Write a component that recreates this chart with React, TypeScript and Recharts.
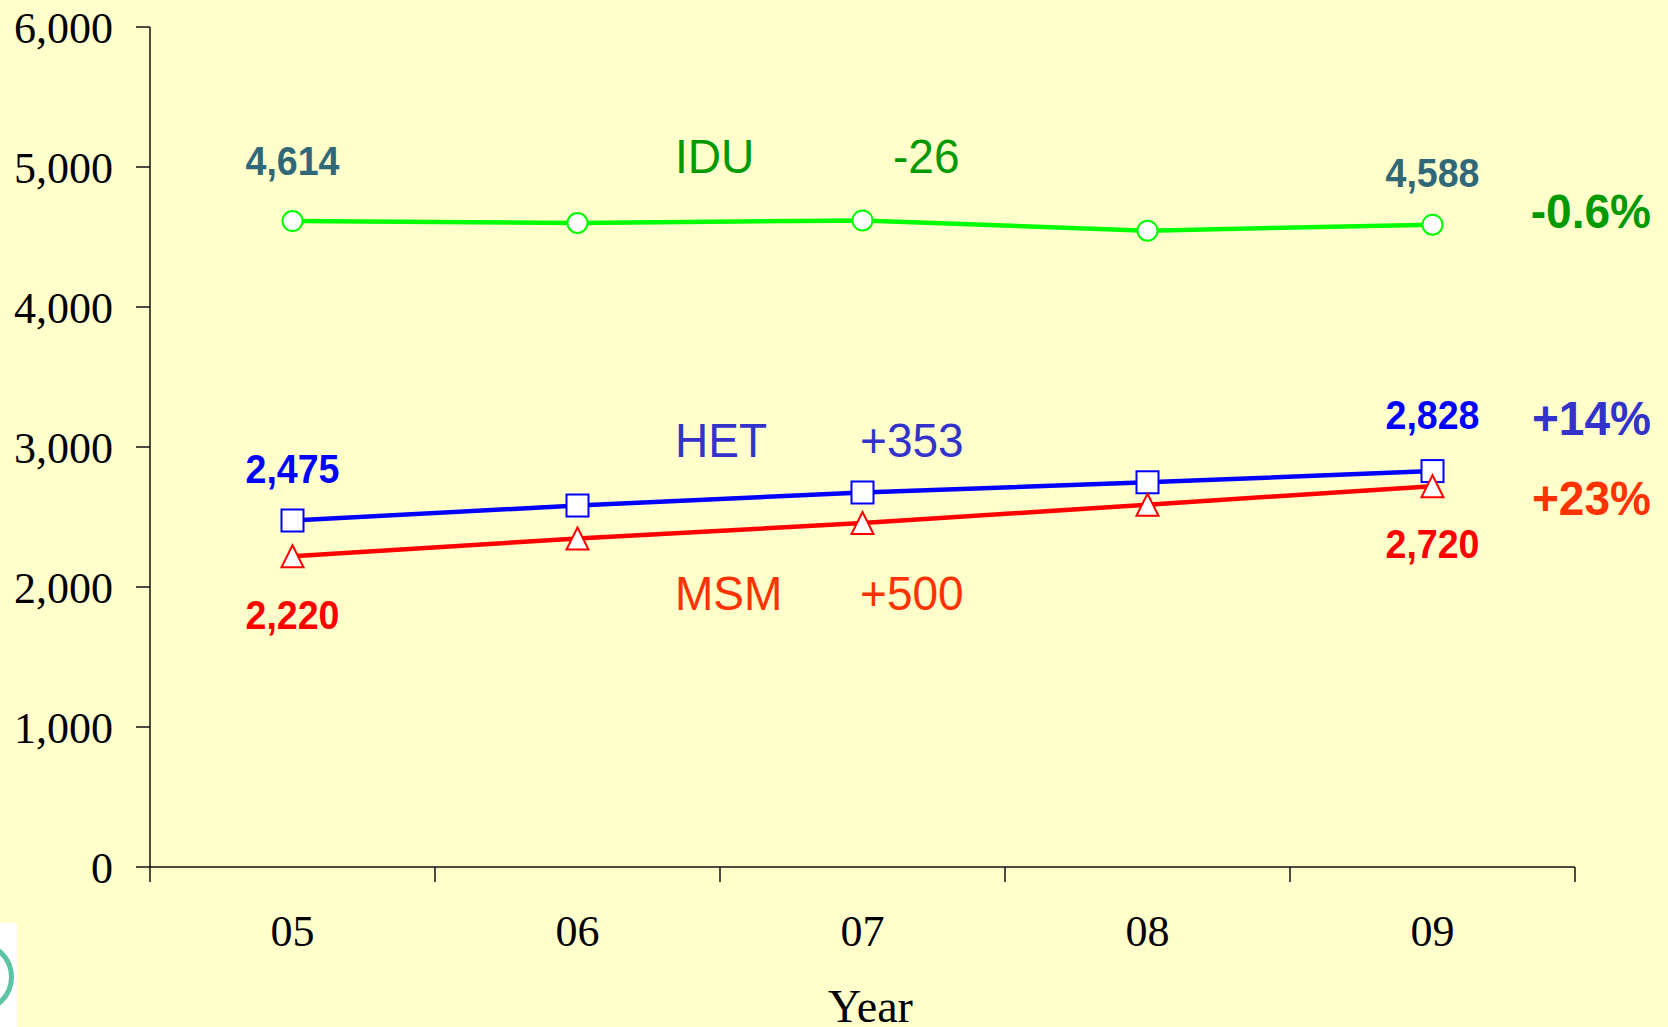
import { LineChart, Line, XAxis, YAxis, LabelList } from "recharts";

// values
const years = ["05", "06", "07", "08", "09"];
const iduValues = [4614, 4600, 4618, 4545, 4588];
const hetValues = [2475, 2582, 2675, 2748, 2828];
const msmValues = [2220, 2346, 2457, 2588, 2720];
const yTicks = [0, 1000, 2000, 3000, 4000, 5000, 6000];

const data = years.map((y, i) => ({
  idx: i,
  year: y,
  idu: iduValues[i],
  het: hetValues[i],
  msm: msmValues[i],
}));

const SANS = "Arial, 'Liberation Sans', sans-serif";
const SERIF = "'Times New Roman', 'Liberation Serif', serif";

const fmt = (v: number) => v.toLocaleString("en-US");
const change = (arr: number[]) => arr[arr.length - 1] - arr[0];
const signed = (v: number) => (v > 0 ? "+" : "") + v;
const pct = (arr: number[], digits: number) => {
  const p = (change(arr) / arr[0]) * 100;
  return (p > 0 ? "+" : "") + p.toFixed(digits) + "%";
};

// slightly condensed text, like the original slide
function SText(props: any) {
  const { x, y, anchor = "start", size, bold, color, dy, children } = props;
  return (
    <text
      transform={`translate(${x},${y}) scale(0.94,1)`}
      dy={dy}
      textAnchor={anchor}
      fill={color}
      fontFamily={SANS}
      fontWeight={bold ? "bold" : "normal"}
      fontSize={size}
    >
      {children}
    </text>
  );
}

const CircleDot = (p: any) => (
  <circle cx={p.cx} cy={p.cy} r={10} fill="#fff" stroke="#00ff00" strokeWidth={2} />
);
const SquareDot = (p: any) => (
  <rect x={p.cx - 11} y={p.cy - 11} width={22} height={22} fill="#fff" stroke="#0000ff" strokeWidth={2} />
);
const TriangleDot = (p: any) => (
  <path
    d={`M${p.cx},${p.cy - 11} L${p.cx + 11},${p.cy + 11} L${p.cx - 11},${p.cy + 11} Z`}
    fill="#fff"
    stroke="#ff0000"
    strokeWidth={2}
  />
);

// only first and last points get a value label
const endLabel = (color: string, dyFirst: number, dyLast: number) => (p: any) => {
  if (p.index !== 0 && p.index !== years.length - 1) return null;
  const dy = p.index === 0 ? dyFirst : dyLast;
  return (
    <SText x={p.x} y={p.y + dy} dy="0.36em" anchor="middle" size={40} bold color={color}>
      {fmt(p.value)}
    </SText>
  );
};

export default function App() {
  return (
    <div
      style={{
        position: "absolute",
        left: 0,
        top: 0,
        width: 1668,
        height: 1027,
        background: "#ffffcc",
        overflow: "hidden",
      }}
    >
      <LineChart width={1668} height={1027} data={data} margin={{ top: 27, right: 93, left: 0, bottom: 0 }}>
        <XAxis
          xAxisId="grid"
          type="number"
          dataKey="idx"
          domain={[-0.5, 4.5]}
          ticks={[-0.5, 0.5, 1.5, 2.5, 3.5, 4.5]}
          interval={0}
          tickFormatter={() => ""}
          tickSize={15}
          height={15}
          stroke="#111"
          strokeWidth={1.5}
        />
        <XAxis
          xAxisId="lab"
          type="number"
          dataKey="idx"
          domain={[-0.5, 4.5]}
          ticks={[0, 1, 2, 3, 4]}
          interval={0}
          tickFormatter={(v: number) => years[v]}
          axisLine={false}
          tickLine={false}
          tickSize={0}
          tickMargin={33}
          height={145}
          tick={{ fill: "#000", fontFamily: SERIF, fontSize: 44 }}
          label={{
            value: "Year",
            position: "insideBottom",
            offset: 5,
            dx: 8,
            fill: "#000",
            fontFamily: SERIF,
            fontSize: 46,
          }}
        />
        <YAxis
          type="number"
          domain={[0, 6000]}
          ticks={yTicks}
          interval={0}
          width={150}
          tickSize={14}
          tickMargin={23}
          tickFormatter={fmt}
          stroke="#111"
          strokeWidth={1.5}
          tick={{ fill: "#000", fontFamily: SERIF, fontSize: 44 }}
        />
        <Line
          xAxisId="lab"
          dataKey="idu"
          stroke="#00ff00"
          strokeWidth={4.5}
          dot={<CircleDot />}
          isAnimationActive={false}
        >
          <LabelList dataKey="idu" content={endLabel("#306878", -60, -52)} />
        </Line>
        <Line
          xAxisId="lab"
          dataKey="het"
          stroke="#0000ff"
          strokeWidth={4.5}
          dot={<SquareDot />}
          isAnimationActive={false}
        >
          <LabelList dataKey="het" content={endLabel("#0000ff", -52, -56)} />
        </Line>
        <Line
          xAxisId="lab"
          dataKey="msm"
          stroke="#ff0000"
          strokeWidth={4.5}
          dot={<TriangleDot />}
          isAnimationActive={false}
        >
          <LabelList dataKey="msm" content={endLabel("#ff0000", 58, 57)} />
        </Line>
      </LineChart>

      {/* series names, absolute and relative changes */}
      <svg
        width={1668}
        height={1027}
        style={{ position: "absolute", left: 0, top: 0, pointerEvents: "none" }}
      >
        <SText x={675} y={173} size={49} color="#009900">IDU</SText>
        <SText x={893} y={173} size={49} color="#009900">{signed(change(iduValues))}</SText>
        <SText x={675} y={457} size={49} color="#3333cc">HET</SText>
        <SText x={860} y={457} size={49} color="#3333cc">{signed(change(hetValues))}</SText>
        <SText x={675} y={610} size={49} color="#ff3300">MSM</SText>
        <SText x={860} y={610} size={49} color="#ff3300">{signed(change(msmValues))}</SText>

        <SText x={1651} y={228} anchor="end" size={49} bold color="#009900">{pct(iduValues, 1)}</SText>
        <SText x={1651} y={435} anchor="end" size={49} bold color="#3333cc">{pct(hetValues, 0)}</SText>
        <SText x={1651} y={515} anchor="end" size={49} bold color="#ff3300">{pct(msmValues, 0)}</SText>
      </svg>

      {/* clipped logo in the corner */}
      <div
        style={{
          position: "absolute",
          left: 0,
          top: 923,
          width: 17,
          height: 104,
          background: "#fff",
          overflow: "hidden",
        }}
      >
        <div
          style={{
            position: "absolute",
            left: -58,
            top: 18,
            width: 62,
            height: 62,
            borderRadius: "50%",
            border: "5px solid #5cc4a4",
          }}
        />
      </div>
    </div>
  );
}
